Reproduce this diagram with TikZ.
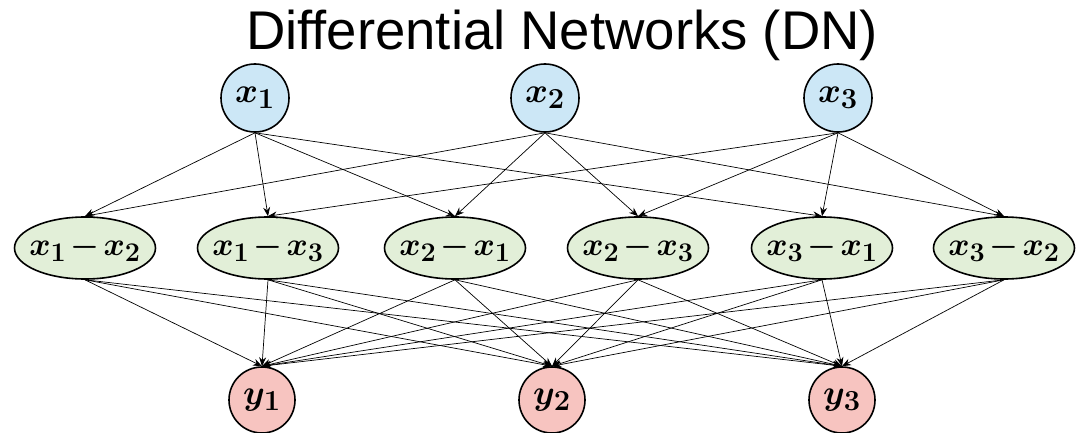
\documentclass[tikz,border=0pt]{standalone}
\usepackage{amsmath}
\usepackage{fontspec}
\newfontfamily\titlefont{Liberation Sans}
\usepackage{tikz}
\usetikzlibrary{positioning,arrows.meta,shapes}

\definecolor{inblue}{RGB}{204,231,246}
\definecolor{diffgreen}{RGB}{226,239,216}
\definecolor{outred}{RGB}{247,196,192}

\newcommand{\nlab}[2]{\makebox[0pt]{\scalebox{#1}{\boldmath$#2$}}}
\newcommand{\dminus}{\mkern-2mu-\mkern-2mu}

\begin{document}
\begin{tikzpicture}[x=1pt, y=1pt,
	inn/.style={circle, draw=black, line width=1.6pt, fill=inblue, minimum size=68pt, inner sep=0pt, font=\Huge},
	diffn/.style={ellipse, draw=black, line width=1.6pt, fill=diffgreen, minimum width=141pt, minimum height=62pt, inner sep=0pt, font=\Huge},
	outn/.style={circle, draw=black, line width=1.6pt, fill=outred, minimum size=66pt, inner sep=0pt, font=\Huge},
	edge/.style={-{Stealth[length=9pt,width=7pt,inset=3pt]}, line width=0.7pt}]

	\useasboundingbox (0,0) rectangle (1084,432);

	\node (title) [anchor=base, font=\titlefont\fontsize{54.5}{57}\selectfont] at (562,382) {Differential Networks (DN)};

	\node (x1) [inn] at (255,334) {\nlab{1.4}{x_1}};
	\node (x2) [inn] at (545,334) {\nlab{1.4}{x_2}};
	\node (x3) [inn] at (838,334) {\nlab{1.4}{x_3}};

	\node (d12) [diffn] at (85,184) {\nlab{1.3}{x_1\dminus x_2}};
	\node (d13) [diffn] at (268,184) {\nlab{1.3}{x_1\dminus x_3}};
	\node (d21) [diffn] at (455,184) {\nlab{1.3}{x_2\dminus x_1}};
	\node (d23) [diffn] at (638,184) {\nlab{1.3}{x_2\dminus x_3}};
	\node (d31) [diffn] at (822,184) {\nlab{1.3}{x_3\dminus x_1}};
	\node (d32) [diffn] at (1004,184) {\nlab{1.3}{x_3\dminus x_2}};

	\node (y1) [outn] at (262,32) {\nlab{1.4}{y_1}};
	\node (y2) [outn] at (552,32) {\nlab{1.4}{y_2}};
	\node (y3) [outn] at (842,32) {\nlab{1.4}{y_3}};

	\draw [edge] (x1.south) -- (d12.north);
	\draw [edge] (x1.south) -- (d13.north);
	\draw [edge] (x1.south) -- (d21.north);
	\draw [edge] (x1.south) -- (d31.north);
	\draw [edge] (x2.south) -- (d12.north);
	\draw [edge] (x2.south) -- (d21.north);
	\draw [edge] (x2.south) -- (d23.north);
	\draw [edge] (x2.south) -- (d32.north);
	\draw [edge] (x3.south) -- (d13.north);
	\draw [edge] (x3.south) -- (d23.north);
	\draw [edge] (x3.south) -- (d31.north);
	\draw [edge] (x3.south) -- (d32.north);

	\foreach \d in {d12,d13,d21,d23,d31,d32}
		\foreach \y in {y1,y2,y3}
			\draw [edge] (\d.south) -- (\y.north);

\end{tikzpicture}
\end{document}
